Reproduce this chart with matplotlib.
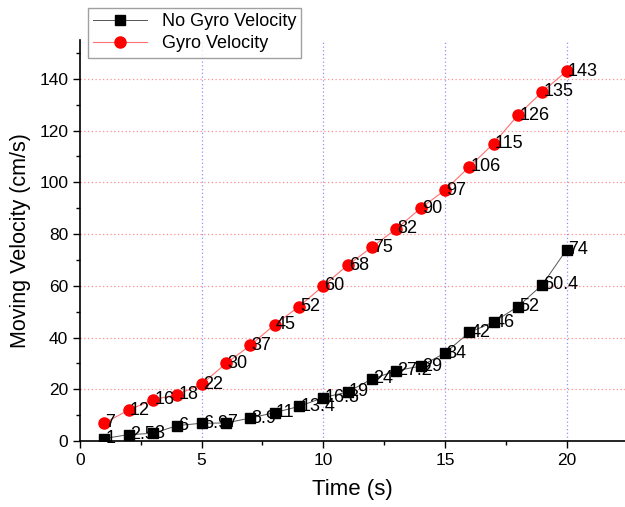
import matplotlib
matplotlib.use('Agg')
import matplotlib.pyplot as plt
import numpy as np

plt.rcParams['font.family'] = ['Liberation Sans', 'DejaVu Sans']

# Data
time_s = list(range(1, 21))
no_gyro = [1, 2.5, 3, 6, 6.9, 7, 8.9, 11, 13.4, 16.8,
           19, 24, 27.2, 29, 34, 42, 46, 52, 60.4, 74]
gyro = [7, 12, 16, 18, 22, 30, 37, 45, 52, 60,
        68, 75, 82, 90, 97, 106, 115, 126, 135, 143]

fig = plt.figure(figsize=(6.25, 5.07), dpi=100)
ax = fig.add_axes([0.128, 0.130, 0.872, 0.791])

ax.plot(time_s, no_gyro, color='#555555', linewidth=0.7, marker='s',
        markersize=6.5, markerfacecolor='black', markeredgecolor='black',
        label='No Gyro Velocity', zorder=3)
ax.plot(time_s, gyro, color='#ff7070', linewidth=0.8, marker='o',
        markersize=8, markerfacecolor='red', markeredgecolor='red',
        label='Gyro Velocity', zorder=3)

# value labels next to each point
for x, y in zip(time_s, no_gyro):
    ax.text(x + 0.05, y, f'{y:g}', fontsize=13, ha='left', va='center', zorder=4)
for x, y in zip(time_s, gyro):
    ax.text(x + 0.05, y, f'{y:g}', fontsize=13, ha='left', va='center', zorder=4)

ax.set_xlim(0, 22.4)
ax.set_ylim(0, 155)
ax.set_xticks([0, 5, 10, 15, 20])
ax.set_xticks(np.arange(2.5, 22.4, 5), minor=True)
ax.set_yticks(np.arange(0, 141, 20))
ax.set_yticks(np.arange(10, 155, 20), minor=True)
ax.tick_params(axis='both', which='major', direction='out', length=5,
               width=1, labelsize=12.5)
ax.tick_params(axis='both', which='minor', direction='out', length=3, width=1)

ax.spines['top'].set_visible(False)
ax.spines['right'].set_visible(False)
ax.spines['left'].set_linewidth(1.2)
ax.spines['bottom'].set_linewidth(1.2)

# dotted grid: red horizontal, blue vertical
for yv in np.arange(20, 141, 20):
    ax.axhline(yv, color='#ff9090', linestyle=(0, (1, 2)), linewidth=0.9, zorder=1)
for xv in [5, 10, 15, 20]:
    ax.axvline(xv, color='#9090ff', linestyle=(0, (1, 2)), linewidth=0.9, zorder=1)

ax.set_xlabel('Time (s)', fontsize=16, labelpad=8)
ax.set_ylabel('Moving Velocity (cm/s)', fontsize=15.5, labelpad=6)

leg = ax.legend(loc='upper left', bbox_to_anchor=(0.140, 0.985),
                bbox_transform=fig.transFigure, fontsize=13, frameon=True,
                fancybox=False, edgecolor='#888888', borderpad=0.3,
                handlelength=3, labelspacing=0.3, borderaxespad=0)
leg.get_frame().set_linewidth(1)

fig.savefig('out.png', dpi=100)
